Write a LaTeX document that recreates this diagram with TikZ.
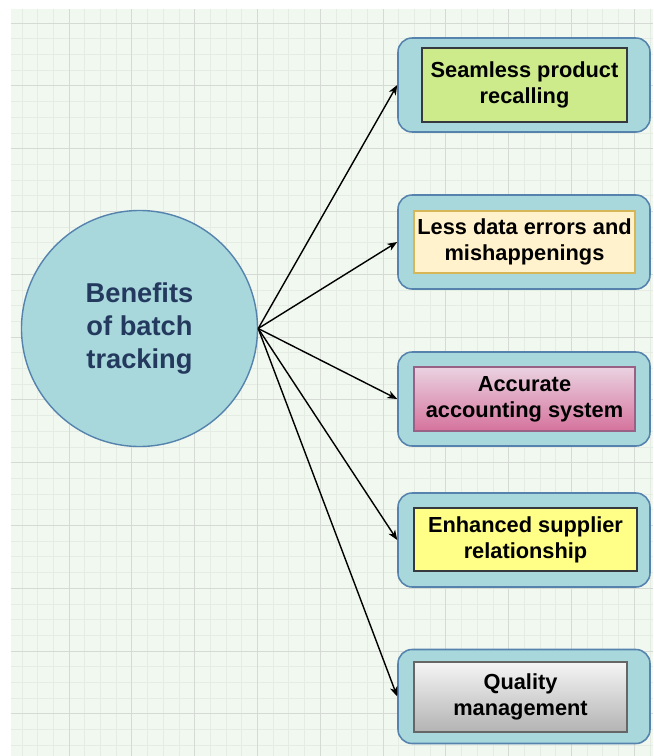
\documentclass[tikz,border=0pt]{standalone}
\usepackage{fontspec}
\setmainfont{Liberation Sans}
\usetikzlibrary{arrows.meta, positioning}
\definecolor{cpaper}{HTML}{F1F8EF}
\definecolor{cminor}{HTML}{E5ECE3}
\definecolor{cmajor}{HTML}{D6DAD4}
\definecolor{cteal}{HTML}{A8D8DC}
\definecolor{cedge}{HTML}{5583AE}
\definecolor{cnavy}{HTML}{23395D}
\definecolor{cdark}{HTML}{36393D}
\definecolor{cgreen}{HTML}{CDEB8B}
\definecolor{cgold}{HTML}{D6B656}
\definecolor{ccream}{HTML}{FFF2CC}
\definecolor{cplum}{HTML}{996185}
\definecolor{cpinktop}{HTML}{EAD2E1}
\definecolor{cpinkbot}{HTML}{D5739D}
\definecolor{cyellow}{HTML}{FFFF88}
\definecolor{cgrey}{HTML}{666666}
\definecolor{csilver}{HTML}{F5F5F5}
\definecolor{cslate}{HTML}{B3B3B3}
\tikzset{
  every picture/.style={line width=0.9pt},
  hub/.style={circle, draw=cedge, fill=cteal, line width=1pt, minimum size=5.9cm, inner sep=0pt,
    align=center, text=cnavy, font=\bfseries\fontsize{19.4}{23.4}\selectfont},
  panel/.style={draw=cedge, fill=cteal, rounded corners=10pt, line width=1.1pt,
    minimum width=6.3cm, minimum height=2.35cm},
  item/.style={align=center, inner sep=0pt, line width=1.1pt,
    font=\bfseries\fontsize{15.5}{18.6}\selectfont},
  arrow/.style={-{Stealth[length=7pt, width=5.5pt, inset=2pt]}, draw=black, line width=1pt},
}

\begin{document}
\begin{tikzpicture}
  \useasboundingbox (0,0) rectangle (16.325,-18.9);
  % squared paper
  \fill[cpaper] (0.275,-0.225) rectangle (16.325,-18.9);
  \begin{scope}[shift={(0.155,-0.575)}]
    \draw[cminor, line width=0.5pt, step=0.3925] (0.12,-18.325) grid (16.17,0.35);
    \draw[cmajor, line width=0.7pt, step=1.57] (0.12,-18.325) grid (16.17,0.35);
  \end{scope}

  \node[hub] (hub) at (3.4875,-8.2125) {Benefits\\of batch\\tracking};

  % teal frames on the right
  \foreach \i/\y in {1/-2.125, 2/-6.05, 3/-9.975, 4/-13.5, 5/-17.4125}
    \node[panel] (p\i) at (13.1,\y) {};

  \node[item, draw=cdark, fill=cgreen, minimum width=5.125cm, minimum height=1.85cm]
    (t1) at (13.1125,-2.125) {Seamless product\\recalling};
  \node[item, draw=cgold, fill=ccream, minimum width=5.525cm, minimum height=1.55cm]
    (t2) at (13.1125,-6.05) {Less data errors and\\mishappenings};
  \node[item, draw=cplum, top color=cpinktop, bottom color=cpinkbot, minimum width=5.525cm, minimum height=1.6cm]
    (t3) at (13.1125,-9.975) {Accurate\\accounting system};
  \node[item, draw=cdark, fill=cyellow, minimum width=5.575cm, minimum height=1.575cm]
    (t4) at (13.1375,-13.4875) {Enhanced supplier\\relationship};
  \node[item, draw=cgrey, top color=csilver, bottom color=cslate, minimum width=5.325cm, minimum height=1.75cm]
    (t5) at (13.0125,-17.425) {Quality\\management};

  \foreach \i in {1,...,5}
    \draw[arrow] (hub.east) -- (p\i.west);
\end{tikzpicture}
\end{document}
